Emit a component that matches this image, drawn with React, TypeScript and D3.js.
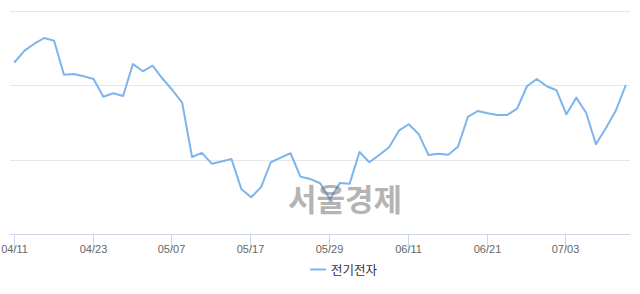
import React, { useEffect } from "react";
import * as d3 from "d3";

const dates: string[] = [
  "04/11", "04/12", "04/15", "04/16", "04/17", "04/18", "04/19", "04/22", "04/23", "04/24",
  "04/25", "04/26", "04/29", "04/30", "05/02", "05/03", "05/07", "05/08", "05/09", "05/10",
  "05/13", "05/14", "05/15", "05/16", "05/17", "05/20", "05/21", "05/22", "05/23", "05/24",
  "05/27", "05/28", "05/29", "05/30", "05/31", "06/03", "06/04", "06/05", "06/07", "06/10",
  "06/11", "06/12", "06/13", "06/14", "06/17", "06/18", "06/19", "06/20", "06/21", "06/24",
  "06/25", "06/26", "06/27", "06/28", "07/01", "07/02", "07/03", "07/04", "07/05", "07/08",
  "07/09", "07/10", "07/11",
];

const values: number[] = [
  19309, 19461, 19554, 19631, 19595, 19138, 19148, 19117, 19081, 18843,
  18889, 18853, 19282, 19184, 19259, 19087, 18933, 18763, 18034, 18088,
  17944, 17974, 18007, 17605, 17493, 17627, 17963, 18025, 18084, 17770,
  17739, 17681, 17466, 17685, 17676, 18101, 17963, 18061, 18164, 18387,
  18473, 18343, 18061, 18078, 18065, 18172, 18571, 18651, 18620, 18598,
  18598, 18682, 18983, 19081, 18983, 18929, 18607, 18830, 18628, 18204,
  18419, 18651, 18987,
];

const tickLabels: string[] = ["04/11", "04/23", "05/07", "05/17", "05/29", "06/11", "06/21", "07/03"];
const gridValues: number[] = [18000, 19000, 20000];
const yDomain: number[] = [17000, 20000];
const seriesName = "전기전자";
const watermark = "서울경제";

export default function App() {
  useEffect(() => {
    document.body.style.margin = "0";
  }, []);

  const W = 640;
  const H = 294;
  const x = d3.scaleLinear().domain([0, dates.length - 1]).range([14.7, 625.5]);
  const y = d3.scaleLinear().domain(yDomain).range([234, 10.5]);
  const line = d3
    .line<number>()
    .x((_, i) => x(i))
    .y((d) => y(d));

  const lineColor = "#7cb5ec";
  const font = "'Liberation Sans', Arial, sans-serif";
  const kfont = "'Noto Sans CJK KR', sans-serif";

  return (
    <svg width={W} height={H} style={{ display: "block", background: "#fff" }}>
      <rect x={0} y={0} width={W} height={H} fill="#ffffff" />
      {gridValues.map((g) => (
        <line key={g} x1={10} x2={630} y1={Math.round(y(g)) + 0.5} y2={Math.round(y(g)) + 0.5} stroke="#e6e6e6" strokeWidth={1} />
      ))}
      <line x1={10} x2={630} y1={234.5} y2={234.5} stroke="#ccd6eb" strokeWidth={1} />
      {tickLabels.map((t) => {
        const i = dates.indexOf(t);
        const tx = Math.round(x(i)) - 0.5;
        return (
          <g key={t}>
            <line x1={tx} x2={tx} y1={234} y2={250} stroke="#ccd6eb" strokeWidth={1} />
            <text x={tx} y={253} textAnchor="middle" fontFamily={font} fontSize={11} fill="#666666">
              {t}
            </text>
          </g>
        );
      })}
      <path d={line(values) || ""} fill="none" stroke={lineColor} strokeWidth={2} strokeLinejoin="round" strokeLinecap="round" />
      <text x={345} y={211} textAnchor="middle" fontFamily={kfont} fontWeight={700} fontSize={31} fill="#6a6a6a" fillOpacity={0.5}>
        {watermark}
      </text>
      <line x1={310} x2={326} y1={269.5} y2={269.5} stroke={lineColor} strokeWidth={2} />
      <text x={331} y={274.5} fontFamily={kfont} fontSize={12.5} fill="#333333">
        {seriesName}
      </text>
    </svg>
  );
}
